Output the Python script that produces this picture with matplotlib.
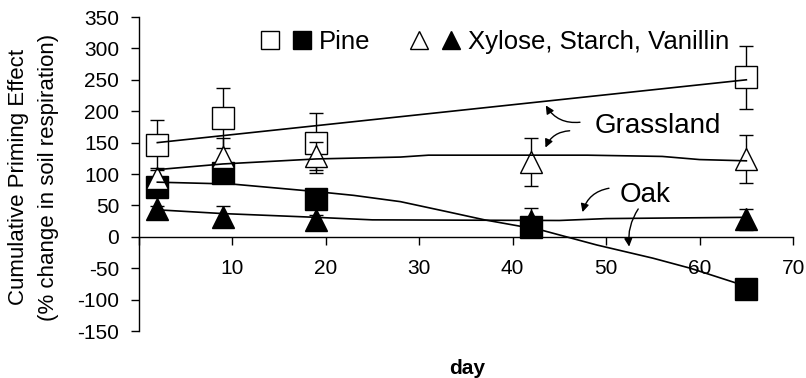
import numpy as np
import matplotlib
matplotlib.use("Agg")
import matplotlib.pyplot as plt
from matplotlib.lines import Line2D
from matplotlib.legend_handler import HandlerTuple

plt.rcParams['font.family'] = ['Liberation Sans', 'DejaVu Sans']
plt.rcParams['axes.unicode_minus'] = False

# grassland pine (open squares)
gp_day = [2, 9, 19, 65]
gp_val = [146, 189, 149, 254]
gp_err = [40, 48, 48, 50]
# oak pine (filled squares)
op_day = [2, 9, 19, 42, 65]
op_val = [79, 102, 60, 15, -83]
op_err = [6, 6, 6, 6, 6]
# grassland xylose/starch/vanillin (open triangles)
gx_day = [2, 9, 19, 42, 65]
gx_val = [94, 127, 129, 119, 124]
gx_err = [16, 30, 22, 38, 38]
# oak xylose/starch/vanillin (filled triangles)
ox_day = [2, 9, 19, 42, 65]
ox_val = [44, 32, 27, 25, 28]
ox_err = [5, 17, 8, 21, 17]

# trend lines
gp_fit_day = [2, 65]
gp_fit_val = [150, 250]
gx_fit_day = [2, 9, 19, 28, 31, 48, 56, 60, 65]
gx_fit_val = [107, 116, 124, 127, 130, 130, 128, 123, 121]
op_fit_day = [2, 10, 19, 23, 28, 33, 37, 43, 49, 55, 59, 64, 65]
op_fit_val = [87, 84, 72, 66, 56, 40, 27, 11, -13, -34, -50, -74, -78]
ox_fit_day = [2, 9, 19, 25, 45, 50, 57, 65]
ox_fit_val = [43, 37, 31, 27, 26, 29, 30, 31]

xticks = [0, 10, 20, 30, 40, 50, 60, 70]
yticks = [-150, -100, -50, 0, 50, 100, 150, 200, 250, 300, 350]

fig = plt.figure(figsize=(8.06, 3.78), dpi=100)
ax = fig.add_axes([0.172, 0.1243, 0.812, 0.8307])

ms = 15.5
eb = dict(ecolor='black', elinewidth=1.0, capsize=5, capthick=1.0, linestyle='none')
ax.errorbar(gp_day, gp_val, yerr=gp_err, marker='s', ms=ms, mfc='white', mec='black', mew=1.0, zorder=2, **eb)
ax.errorbar(ox_day, ox_val, yerr=ox_err, marker='^', ms=ms, mfc='black', mec='black', mew=1.0, zorder=3, **eb)
ax.errorbar(op_day, op_val, yerr=op_err, marker='s', ms=ms, mfc='black', mec='black', mew=1.0, zorder=4, **eb)
ax.errorbar(gx_day, gx_val, yerr=gx_err, marker='^', ms=ms, mfc='white', mec='black', mew=1.0, zorder=5, **eb)

for d, v in [(gp_fit_day, gp_fit_val), (gx_fit_day, gx_fit_val),
             (op_fit_day, op_fit_val), (ox_fit_day, ox_fit_val)]:
    ax.plot(d, v, color='black', lw=1.2, zorder=6)

ax.set_xlim(0, 70)
ax.set_ylim(-150, 350)
ax.set_xticks(xticks)
ax.set_xticklabels(['' if t == 0 else str(t) for t in xticks])
ax.set_yticks(yticks)
ax.spines['top'].set_visible(False)
ax.spines['right'].set_visible(False)
ax.spines['bottom'].set_position(('data', 0))
for s in ['left', 'bottom']:
    ax.spines[s].set_linewidth(1.0)
ax.tick_params(axis='x', direction='out', length=6, width=1.0, labelsize=15, pad=10)
ax.tick_params(axis='y', direction='out', length=6, width=1.0, labelsize=15, pad=8)

fig.text(19 / 806, 1 - 177 / 378, 'Cumulative Priming Effect', rotation=90,
         ha='center', va='center', fontsize=16)
fig.text(49 / 806, 1 - 177 / 378, '(% change in soil respiration)', rotation=90,
         ha='center', va='center', fontsize=16)
fig.text(467 / 806, 1 - 368 / 378, 'day', ha='center', va='center',
         fontsize=15, fontweight='bold')

# labels with curved arrows
ax.text(48.8, 165, 'Grassland', fontsize=20, ha='left', va='baseline')
ax.text(51.4, 56, 'Oak', fontsize=20, ha='left', va='baseline')
arr = dict(arrowstyle='-|>', color='black', lw=1.0, mutation_scale=12)
ax.annotate('', xy=(43.4, 213), xytext=(47.5, 183),
            arrowprops=dict(connectionstyle='arc3,rad=-0.35', **arr))
ax.annotate('', xy=(43.4, 138), xytext=(46.4, 169),
            arrowprops=dict(connectionstyle='arc3,rad=0.35', **arr))
ax.annotate('', xy=(47.4, 35), xytext=(50.6, 78),
            arrowprops=dict(connectionstyle='arc3,rad=0.35', **arr))
ax.annotate('', xy=(52.5, -20), xytext=(53.6, 48),
            arrowprops=dict(connectionstyle='arc3,rad=0.2', **arr))

# legend
lms = 12.5
h_sq = (Line2D([], [], ls='none', marker='s', ms=lms, mfc='white', mec='black', mew=1.0),
        Line2D([], [], ls='none', marker='s', ms=lms, mfc='black', mec='black', mew=1.0))
h_tr = (Line2D([], [], ls='none', marker='^', ms=lms, mfc='white', mec='black', mew=1.0),
        Line2D([], [], ls='none', marker='^', ms=lms, mfc='black', mec='black', mew=1.0))
fig.legend([h_sq, h_tr], ['Pine', 'Xylose, Starch, Vanillin'],
           handler_map={tuple: HandlerTuple(ndivide=None, pad=0.5)},
           loc='center', bbox_to_anchor=(495 / 806, 1 - 42 / 378), ncol=2,
           frameon=False, fontsize=18.5, handlelength=2.0, handletextpad=0.3,
           columnspacing=1.5, borderpad=0)

fig.savefig('out.png', dpi=100)
